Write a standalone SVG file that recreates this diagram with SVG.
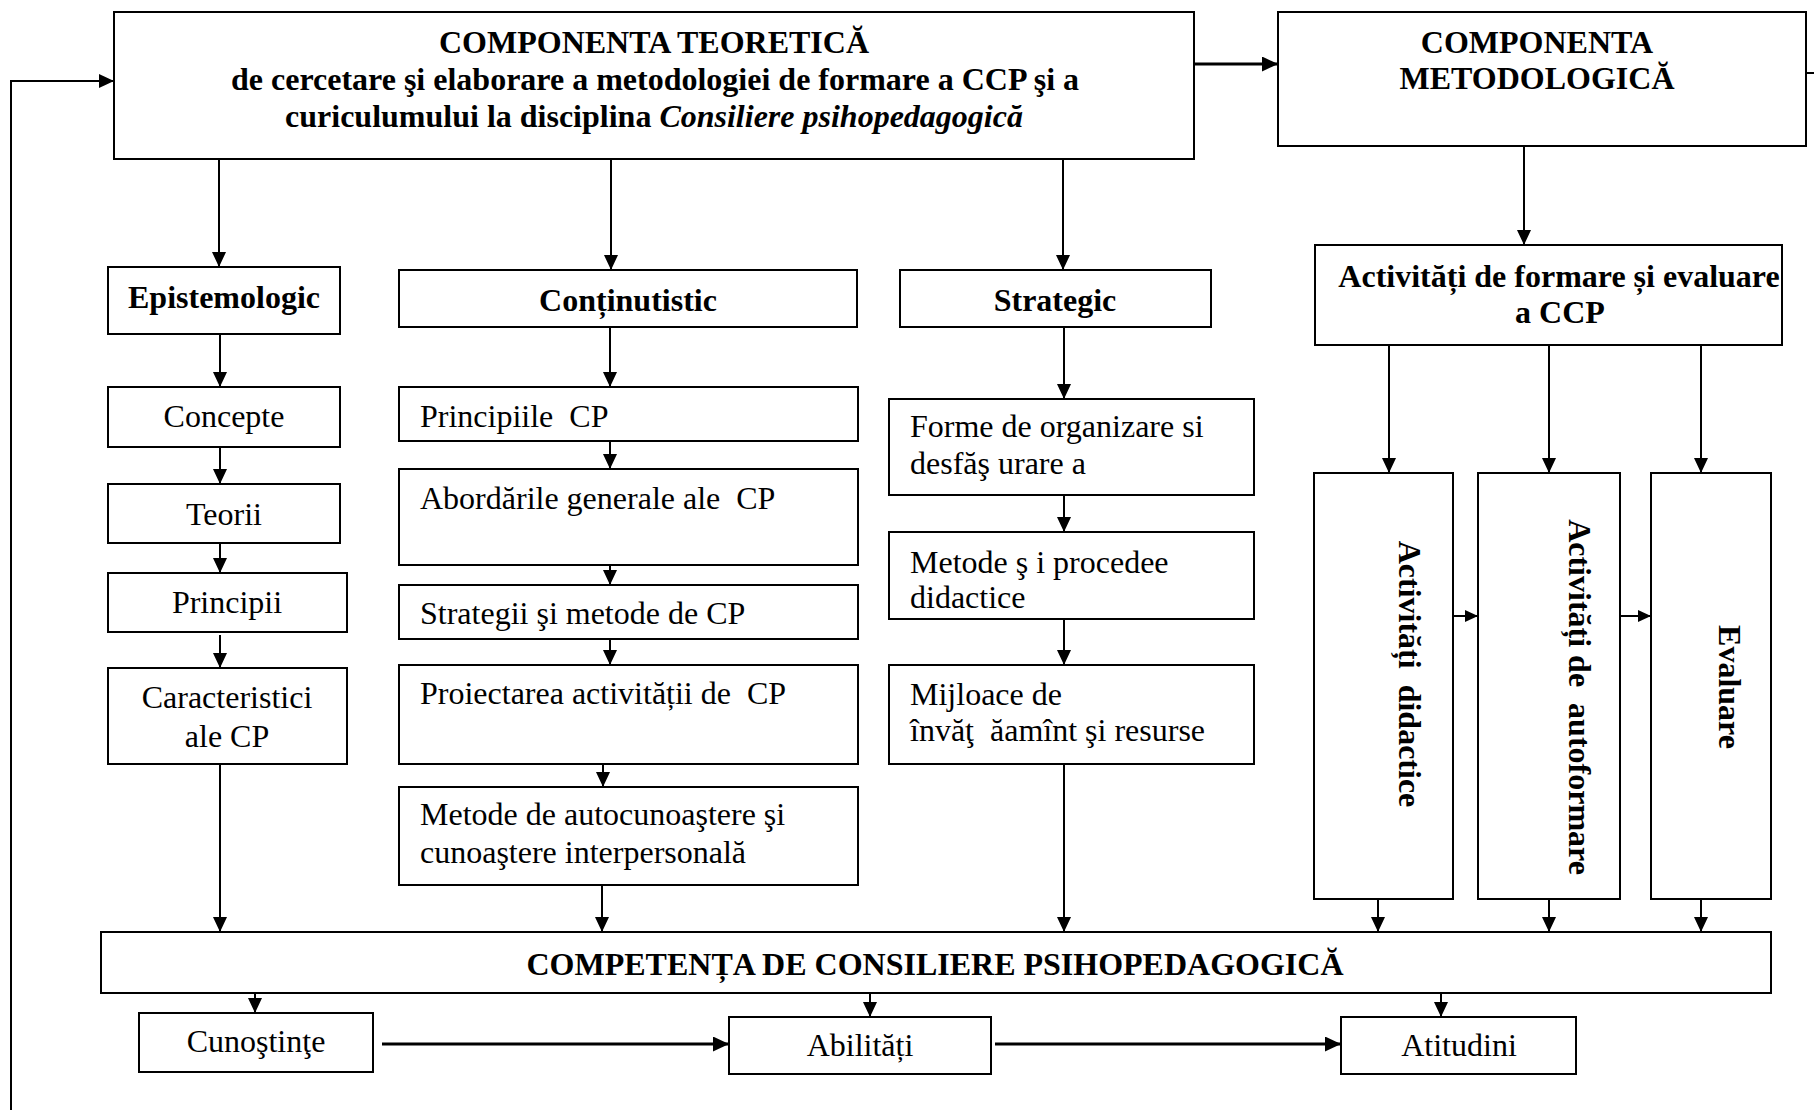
<svg xmlns="http://www.w3.org/2000/svg" width="1814" height="1113" viewBox="0 0 1814 1113">
<style>
.box{fill:#fff;stroke:#000;stroke-width:2}
.t{font-family:"Liberation Serif","Times New Roman",serif;font-size:32px;fill:#000;white-space:pre}
.b{font-weight:bold}
.c{text-anchor:middle}
.ln{fill:none;stroke:#000;stroke-width:2}
.thick{fill:none;stroke:#000;stroke-width:2.8}
</style>
<defs>
<marker id="ah" markerUnits="userSpaceOnUse" markerWidth="15" markerHeight="14" refX="15" refY="7" orient="auto"><path d="M0,0 L15,7 L0,14 z" fill="#000"/></marker>
<marker id="ahs" markerUnits="userSpaceOnUse" markerWidth="13" markerHeight="12" refX="13" refY="6" orient="auto"><path d="M0,0 L13,6 L0,12 z" fill="#000"/></marker>
<marker id="ahb" markerUnits="userSpaceOnUse" markerWidth="16" markerHeight="15" refX="16" refY="7.5" orient="auto"><path d="M0,0 L16,7.5 L0,15 z" fill="#000"/></marker>
</defs>
<rect width="1814" height="1113" fill="#fff"/>

<g id="connectors">
<polyline class="ln" points="11,1110 11,81 114,81" marker-end="url(#ah)"/>
<line class="thick" x1="1194" y1="64" x2="1278" y2="64" marker-end="url(#ahb)"/>
<line class="ln" x1="1806" y1="73" x2="1814" y2="73"/>
<line class="ln" x1="219" y1="159" x2="219" y2="267" marker-end="url(#ah)"/>
<line class="ln" x1="611" y1="159" x2="611" y2="270" marker-end="url(#ah)"/>
<line class="ln" x1="1063" y1="159" x2="1063" y2="270" marker-end="url(#ah)"/>
<line class="ln" x1="1524" y1="146" x2="1524" y2="245" marker-end="url(#ah)"/>
<line class="ln" x1="220" y1="334" x2="220" y2="387" marker-end="url(#ah)"/>
<line class="ln" x1="220" y1="447" x2="220" y2="484" marker-end="url(#ah)"/>
<line class="ln" x1="220" y1="543" x2="220" y2="573" marker-end="url(#ah)"/>
<line class="ln" x1="220" y1="635" x2="220" y2="668" marker-end="url(#ah)"/>
<line class="ln" x1="220" y1="764" x2="220" y2="932" marker-end="url(#ah)"/>
<line class="ln" x1="610" y1="327" x2="610" y2="387" marker-end="url(#ah)"/>
<line class="ln" x1="610" y1="441" x2="610" y2="469" marker-end="url(#ah)"/>
<line class="ln" x1="610" y1="565" x2="610" y2="585" marker-end="url(#ah)"/>
<line class="ln" x1="610" y1="639" x2="610" y2="665" marker-end="url(#ah)"/>
<line class="ln" x1="603" y1="764" x2="603" y2="787" marker-end="url(#ah)"/>
<line class="ln" x1="602" y1="885" x2="602" y2="932" marker-end="url(#ah)"/>
<line class="ln" x1="1064" y1="327" x2="1064" y2="399" marker-end="url(#ah)"/>
<line class="ln" x1="1064" y1="495" x2="1064" y2="532" marker-end="url(#ah)"/>
<line class="ln" x1="1064" y1="619" x2="1064" y2="665" marker-end="url(#ah)"/>
<line class="ln" x1="1064" y1="764" x2="1064" y2="932" marker-end="url(#ah)"/>
<line class="ln" x1="1389" y1="345" x2="1389" y2="473" marker-end="url(#ah)"/>
<line class="ln" x1="1549" y1="345" x2="1549" y2="473" marker-end="url(#ah)"/>
<line class="ln" x1="1701" y1="345" x2="1701" y2="473" marker-end="url(#ah)"/>
<line class="ln" x1="1453" y1="616" x2="1478" y2="616" marker-end="url(#ahs)"/>
<line class="ln" x1="1620" y1="616" x2="1651" y2="616" marker-end="url(#ahs)"/>
<line class="ln" x1="1378" y1="899" x2="1378" y2="932" marker-end="url(#ah)"/>
<line class="ln" x1="1549" y1="899" x2="1549" y2="932" marker-end="url(#ah)"/>
<line class="ln" x1="1701" y1="899" x2="1701" y2="932" marker-end="url(#ah)"/>
<line class="ln" x1="255" y1="993" x2="255" y2="1013" marker-end="url(#ah)"/>
<line class="ln" x1="870" y1="993" x2="870" y2="1017" marker-end="url(#ah)"/>
<line class="ln" x1="1441" y1="993" x2="1441" y2="1017" marker-end="url(#ah)"/>
<line class="thick" x1="382" y1="1044" x2="729" y2="1044" marker-end="url(#ahb)"/>
<line class="thick" x1="995" y1="1044" x2="1341" y2="1044" marker-end="url(#ahb)"/>
</g>

<g id="teoretica">
<rect class="box" x="114" y="12" width="1080" height="147"/>
<text class="t b c" x="654" y="53">COMPONENTA TEORETICĂ</text>
<text class="t b c" x="655" y="90">de cercetare şi elaborare a metodologiei de formare a CCP şi a</text>
<text class="t b c" x="654" y="127">curiculumului la disciplina <tspan font-style="italic">Consiliere psihopedagogică</tspan></text>
</g>

<g id="metodologica">
<rect class="box" x="1278" y="12" width="528" height="134"/>
<text class="t b c" x="1537" y="53">COMPONENTA</text>
<text class="t b c" x="1537" y="89">METODOLOGICĂ</text>
</g>

<g id="epistemologic">
<rect class="box" x="108" y="267" width="232" height="67"/>
<text class="t b c" x="224" y="308">Epistemologic</text>
</g>
<g id="continutistic">
<rect class="box" x="399" y="270" width="458" height="57"/>
<text class="t b c" x="628" y="311">Conținutistic</text>
</g>
<g id="strategic">
<rect class="box" x="900" y="270" width="311" height="57"/>
<text class="t b c" x="1055" y="311">Strategic</text>
</g>
<g id="activitati-formare">
<rect class="box" x="1315" y="245" width="467" height="100"/>
<text class="t b c" x="1559" y="287">Activități de formare și evaluare</text>
<text class="t b c" x="1560" y="323">a CCP</text>
</g>

<g id="concepte">
<rect class="box" x="108" y="387" width="232" height="60"/>
<text class="t c" x="224" y="427">Concepte</text>
</g>
<g id="teorii">
<rect class="box" x="108" y="484" width="232" height="59"/>
<text class="t c" x="224" y="525">Teorii</text>
</g>
<g id="principii">
<rect class="box" x="108" y="573" width="239" height="59"/>
<text class="t c" x="227" y="613">Principii</text>
</g>
<g id="caracteristici">
<rect class="box" x="108" y="668" width="239" height="96"/>
<text class="t c" x="227" y="708">Caracteristici</text>
<text class="t c" x="227" y="747">ale CP</text>
</g>

<g id="principiile">
<rect class="box" x="399" y="387" width="459" height="54"/>
<text class="t" x="420" y="427">Principiile  CP</text>
</g>
<g id="abordarile">
<rect class="box" x="399" y="469" width="459" height="96"/>
<text class="t" x="420" y="509">Abordările generale ale  CP</text>
</g>
<g id="strategii">
<rect class="box" x="399" y="585" width="459" height="54"/>
<text class="t" x="420" y="624">Strategii şi metode de CP</text>
</g>
<g id="proiectarea">
<rect class="box" x="399" y="665" width="459" height="99"/>
<text class="t" x="420" y="704">Proiectarea activității de  CP</text>
</g>
<g id="metode-auto">
<rect class="box" x="399" y="787" width="459" height="98"/>
<text class="t" x="420" y="825">Metode de autocunoaştere şi</text>
<text class="t" x="420" y="863">cunoaştere interpersonală</text>
</g>

<g id="forme">
<rect class="box" x="889" y="399" width="365" height="96"/>
<text class="t" x="910" y="437">Forme de organizare si</text>
<text class="t" x="910" y="474">desfăş urare a</text>
</g>
<g id="metode-procedee">
<rect class="box" x="889" y="532" width="365" height="87"/>
<text class="t" x="910" y="573">Metode ş i procedee</text>
<text class="t" x="910" y="608">didactice</text>
</g>
<g id="mijloace">
<rect class="box" x="889" y="665" width="365" height="99"/>
<text class="t" x="910" y="705">Mijloace de</text>
<text class="t" x="910" y="741">învăţ  ăamînt şi resurse</text>
</g>

<g id="activitati-didactice">
<rect class="box" x="1314" y="473" width="139" height="426"/>
<text class="t b c" transform="translate(1410,674) rotate(90)" x="0" y="11">Activități  didactice</text>
</g>
<g id="activitati-autoformare">
<rect class="box" x="1478" y="473" width="142" height="426"/>
<text class="t b c" transform="translate(1580,697) rotate(90)" x="0" y="11">Activități de  autoformare</text>
</g>
<g id="evaluare">
<rect class="box" x="1651" y="473" width="120" height="426"/>
<text class="t b c" transform="translate(1730,687) rotate(90)" x="0" y="11">Evaluare</text>
</g>

<g id="competenta">
<rect class="box" x="101" y="932" width="1670" height="61"/>
<text class="t b c" x="935" y="975">COMPETENȚA DE CONSILIERE PSIHOPEDAGOGICĂ</text>
</g>
<g id="cunostinte">
<rect class="box" x="139" y="1013" width="234" height="59"/>
<text class="t c" x="256" y="1052">Cunoştinţe</text>
</g>
<g id="abilitati">
<rect class="box" x="729" y="1017" width="262" height="57"/>
<text class="t c" x="860" y="1056">Abilități</text>
</g>
<g id="atitudini">
<rect class="box" x="1341" y="1017" width="235" height="57"/>
<text class="t c" x="1459" y="1056">Atitudini</text>
</g>
</svg>
